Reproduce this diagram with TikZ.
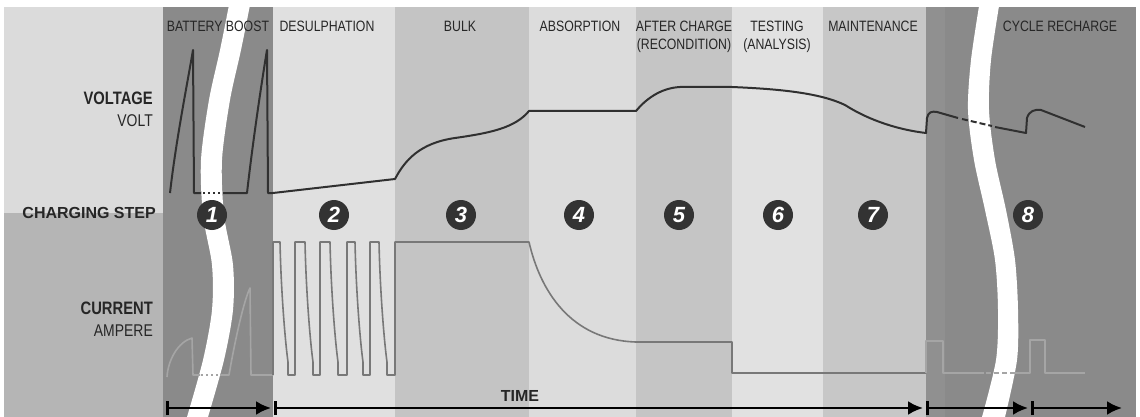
\documentclass[tikz,border=0pt]{standalone}
\usepackage{fontspec}
\setmainfont{Liberation Sans}
\newfontfamily\narrowsf[FakeStretch=0.82]{Liberation Sans}
\usetikzlibrary{arrows.meta}

\begin{document}
\begin{tikzpicture}[x=1pt,y=-1pt,
  head/.style={anchor=north,inner sep=0pt,align=center,text=black!85,
    font=\narrowsf\fontsize{15}{18}\selectfont},
  side/.style={anchor=east,inner sep=0pt,text=black!85},
  stepnum/.style={circle,fill=black!80,inner sep=0pt,minimum size=30pt,text=white,
    font=\bfseries\itshape\fontsize{22}{22}\selectfont},
  volt/.style={cVolt,line width=2pt,line join=round},
  curr/.style={cCurr,line width=1.6pt,line join=round},
  tspan/.style={line width=2.5pt,{Bar[width=14pt]}-{Latex[length=15pt,width=14pt]},shorten >=3pt}]
  \definecolor{cVolt}{RGB}{48,48,48}
  \definecolor{cCurr}{RGB}{120,120,120}
  \definecolor{cCurrL}{RGB}{165,165,165}
  \definecolor{cLight}{RGB}{224,224,224}
  \definecolor{cMid}{RGB}{196,196,196}
  \definecolor{cDark}{RGB}{138,138,138}

  \useasboundingbox (0,0) rectangle (1140,417);

  % background panels
  \fill[black!14] (4,7) rectangle (163,213);
  \fill[black!29] (4,213) rectangle (163,417);
  \fill[cDark] (163,7) rectangle (273,417);
  \fill[cLight] (273,7) rectangle (395,417);
  \fill[cMid] (395,7) rectangle (529,417);
  \fill[cLight!98!black] (529,7) rectangle (636,417);
  \fill[cMid!98!white] (636,7) rectangle (732,417);
  \fill[cLight!95!white] (732,7) rectangle (823,417);
  \fill[cMid!95!white] (823,7) rectangle (926,417);
  \fill[cDark] (926,7) rectangle (1136,417);
  \fill[cDark!95!white] (926,7) rectangle (945,417);

  % --- time breaks (white bands) ---
  \fill[white] plot[smooth] coordinates {(230,0) (220,50) (209,100) (201,160) (203,215)
      (212,265) (212,310) (203,360) (187,417)}
    -- plot[smooth] coordinates {(208,417) (224,360) (233,310) (233,265) (224,215)
      (222,160) (230,100) (241,50) (251,0)} -- cycle;
  \fill[white] plot[smooth] coordinates {(980,0) (971,60) (968,110) (974,160) (985,210)
      (995,260) (998,310) (996,360) (982,417)}
    -- plot[smooth] coordinates {(1005,417) (1017,360) (1018,310) (1015,260) (1006,210)
      (995,160) (989,110) (991,60) (1000,0)} -- cycle;

  % --- voltage ---
  \draw[volt] (170,193) .. controls (176,140) and (188,80) .. (193,50) -- (194,193) -- (201,193);
  \draw[volt,dash pattern=on 2pt off 3pt] (203,193) -- (221,193);
  \draw[volt] (223,193) -- (247,193) .. controls (253,140) and (262,80) .. (267,50)
    -- (268,193) -- (273,193) -- (395,179)
    .. controls (405,160) and (420,143) .. (455,138)
    .. controls (490,133) and (515,128) .. (529,111) -- (636,111)
    .. controls (645,100) and (660,88) .. (680,87) -- (732,87)
    .. controls (780,89) and (820,93) .. (845,105)
    .. controls (870,121) and (900,130) .. (926,133)
    -- (927,118) .. controls (928,112) and (932,111) .. (937,112) -- (958,118);
  \draw[volt,dash pattern=on 6pt off 3pt] (962,119) -- (992,126);
  \draw[volt] (995,127) -- (1026,133) -- (1027,118)
    .. controls (1029,111) and (1035,109) .. (1041,110) -- (1085,127);

  % --- current ---
  \draw[curr,cCurrL] (167,377) .. controls (168,360) and (178,342) .. (192,338)
    -- (193,375) -- (200,375);
  \draw[curr,cCurrL,dash pattern=on 2pt off 3pt] (201,375) -- (218,375);
  \draw[curr,cCurrL] (220,375) -- (229,375) .. controls (235,340) and (244,300) .. (250,288)
    -- (251,375) -- (273,375);
  \draw[curr] (273,375) -- (273,242) -- (280,242)
    .. controls (281,290) and (285,340) .. (288,362) -- (288,375) -- (295,375) -- (295,242) -- (305,242)
    .. controls (306,290) and (310,340) .. (313,362) -- (313,375) -- (320,375) -- (320,242) -- (330,242)
    .. controls (331,290) and (335,340) .. (338,362) -- (338,375) -- (347,375) -- (347,242) -- (355,242)
    .. controls (356,290) and (360,340) .. (363,362) -- (363,375) -- (370,375) -- (370,242) -- (379,242)
    .. controls (380,290) and (384,340) .. (387,362) -- (387,375) -- (395,375) -- (395,242) -- (529,242)
    .. controls (540,290) and (570,340) .. (636,342) -- (732,342) -- (732,373) -- (926,373);
  \draw[curr,cCurrL] (926,373) -- (926,341) -- (943,341) -- (943,373) -- (984,373);
  \draw[curr,cCurrL,dash pattern=on 5pt off 3pt] (986,373) -- (1008,373);
  \draw[curr,cCurrL] (1010,373) -- (1030,373) -- (1030,340) -- (1045,340) -- (1045,373) -- (1085,373);

  % stage headers
  \node[head] (hBoost) at (218,21) {BATTERY BOOST};
  \node[head] (hDesulph) at (327,21) {DESULPHATION};
  \node[head] (hBulk) at (460,21) {BULK};
  \node[head] (hAbsorb) at (580,21) {ABSORPTION};
  \node[head] (hAfter) at (684,21) {AFTER CHARGE\\(RECONDITION)};
  \node[head] (hTest) at (777,21) {TESTING\\(ANALYSIS)};
  \node[head] (hMaint) at (873,21) {MAINTENANCE};
  \node[head] (hCycle) at (1060,21) {CYCLE RECHARGE};

  % axis labels
  \node[side,font=\narrowsf\bfseries\fontsize{18}{18}\selectfont] (lVolt) at (153,98) {VOLTAGE};
  \node[side,font=\narrowsf\fontsize{17}{17}\selectfont] (lVoltU) at (153,121) {VOLT};
  \node[side,font=\bfseries\fontsize{16}{16}\selectfont] (lStep) at (156,213) {CHARGING STEP};
  \node[side,font=\narrowsf\bfseries\fontsize{18}{18}\selectfont] (lCurr) at (153,308) {CURRENT};
  \node[side,font=\narrowsf\fontsize{17}{17}\selectfont] (lCurrU) at (153,331) {AMPERE};

  % charging steps
  \node[stepnum] (s1) at (212,215) {1};
  \node[stepnum] (s2) at (334,215) {2};
  \node[stepnum] (s3) at (461,215) {3};
  \node[stepnum] (s4) at (579,215) {4};
  \node[stepnum] (s5) at (679,215) {5};
  \node[stepnum] (s6) at (778,215) {6};
  \node[stepnum] (s7) at (873,215) {7};
  \node[stepnum] (s8) at (1028,215) {8};

  % time axis
  \coordinate (t0) at (166,408);
  \coordinate (t1) at (274,408);
  \coordinate (t2) at (926,408);
  \coordinate (t3) at (1031,408);
  \coordinate (t4) at (1125,408);
  \draw[tspan] (t0) -- (t1);
  \draw[tspan] (t1) -- (t2);
  \draw[tspan] (t2) -- (t3);
  \draw[tspan] (t3) -- (t4);
  \node[font=\bfseries\fontsize{16}{16}\selectfont,text=black!85,inner sep=0pt] (lTime) at (520,396) {TIME};
\end{tikzpicture}
\end{document}
